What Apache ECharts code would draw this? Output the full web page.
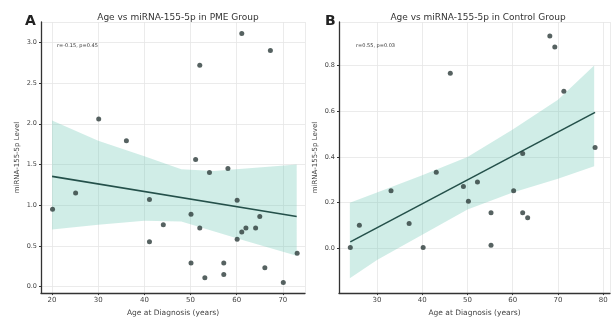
<!DOCTYPE html>
<html><head><meta charset="utf-8">
<script src="https://cdn.jsdelivr.net/npm/echarts@6/dist/echarts.min.js"></script>
<style>html,body{margin:0;padding:0;background:#fff}#c{width:613px;height:322px}</style>
</head><body><div id="c"></div>
<script>
// Panel A: PME group
const ageA = [61.1,67.3,52.0,30.1,36.1,51.1,54.1,58.1,20.1,25.1,41.1,60.1,50.1,65.0,44.1,52.0,62.0,64.1,61.1,60.1,41.1,73.1,50.1,57.2,66.1,57.2,53.1,70.1];
const mirA = [3.11,2.90,2.72,2.06,1.79,1.56,1.40,1.45,0.95,1.15,1.07,1.06,0.89,0.86,0.76,0.72,0.72,0.72,0.67,0.58,0.55,0.41,0.29,0.29,0.23,0.15,0.11,0.05];
const fitA = [[20,1.354],[73,0.86]];
const bandAgeA = [20,30,40,48,55,62,73];
const bandHiA = [2.04,1.79,1.60,1.44,1.42,1.45,1.50];
const bandLoA = [0.70,0.76,0.81,0.80,0.68,0.56,0.38];
// Panel B: Control group
const ageB = [68.2,69.3,46.2,71.3,78.2,62.2,43.1,33.1,49.1,52.2,60.2,50.2,26.1,37.1,55.2,62.2,63.3,24.1,40.2,55.2];
const mirB = [0.929,0.881,0.766,0.687,0.441,0.415,0.333,0.252,0.271,0.291,0.252,0.206,0.102,0.109,0.156,0.156,0.134,0.004,0.004,0.014];
const fitB = [[24.1,0.029],[78.2,0.595]];
const bandAgeB = [24,30,40,50,60,70,78];
const bandHiB = [0.20,0.245,0.32,0.40,0.52,0.65,0.80];
const bandLoB = [-0.13,-0.05,0.06,0.17,0.245,0.305,0.36];
const titleA = 'Age vs miRNA-155-5p in PME Group';
const titleB = 'Age vs miRNA-155-5p in Control Group';
const statA = 'r=-0.15, p=0.45';
const statB = 'r=0.55, p=0.03';
const xName = 'Age at Diagnosis (years)';
const yName = 'miRNA-155-5p Level';

const FONT = 'DejaVu Sans';
const axisCol = '#333';
const gridCol = '#e6e6e6';
const bandCol = 'rgba(110,200,180,0.32)';
const lineCol = '#24504a';
const dotCol = '#2c3b3a';

function xAxis(idx, min, max){
  return {type:'value', gridIndex:idx, min:min, max:max,
    name:xName, nameLocation:'middle', nameGap:15,
    nameTextStyle:{fontFamily:FONT, fontSize:7.5, color:'#444'},
    axisLine:{show:true, onZero:false, lineStyle:{color:axisCol, width:1.3}},
    axisTick:{show:true, length:2, lineStyle:{color:axisCol}},
    axisLabel:{fontFamily:FONT, fontSize:7, color:'#444', margin:4, showMinLabel:false, showMaxLabel:false},
    splitLine:{show:true, lineStyle:{color:gridCol, width:0.8}}};
}
function yAxis(idx, min, max, dec){
  return {type:'value', gridIndex:idx, min:min, max:max,
    name:yName, nameLocation:'middle', nameGap:20, nameRotate:90,
    nameTextStyle:{fontFamily:FONT, fontSize:7, color:'#444'},
    axisLine:{show:true, onZero:false, lineStyle:{color:axisCol, width:1.3}},
    axisTick:{show:true, length:2, lineStyle:{color:axisCol}},
    axisLabel:{fontFamily:FONT, fontSize:6.5, color:'#444', margin:4, showMinLabel:false, showMaxLabel:false,
      formatter: v => v.toFixed(dec)},
    splitLine:{show:true, lineStyle:{color:gridCol, width:0.8}}};
}
function band(idx, xs, lo, hi){
  return {type:'custom', xAxisIndex:idx, yAxisIndex:idx, silent:true, z:1,
    data: xs.map((x,i)=>[x, lo[i], hi[i]]),
    encode:{x:0, y:[1,2]},
    renderItem:(params, api)=>{
      if (params.dataIndex !== 0) return null;
      const pts = [];
      for (let i=0;i<xs.length;i++) pts.push(api.coord([xs[i], hi[i]]));
      for (let i=xs.length-1;i>=0;i--) pts.push(api.coord([xs[i], lo[i]]));
      return {type:'polygon', shape:{points:pts}, style:{fill:bandCol}};
    }};
}
function scatter(idx, xs, ys){
  return {type:'scatter', xAxisIndex:idx, yAxisIndex:idx, z:3, symbolSize:5,
    itemStyle:{color:dotCol}, data: xs.map((x,i)=>[x, ys[i]])};
}
function fit(idx, d){
  return {type:'line', xAxisIndex:idx, yAxisIndex:idx, z:2, symbol:'none',
    lineStyle:{color:lineCol, width:1.6}, data:d};
}

const chart = echarts.init(document.getElementById('c'), null, {renderer:'canvas'});
chart.setOption({
  animation:false,
  backgroundColor:'#fff',
  title:[
    {text:titleA, left:173, top:8, textAlign:'center', textStyle:{fontFamily:FONT, fontSize:9, fontWeight:'normal', color:'#333'}},
    {text:titleB, left:473, top:8, textAlign:'center', textStyle:{fontFamily:FONT, fontSize:9, fontWeight:'normal', color:'#333'}},
    {text:'A', left:20, top:9, textStyle:{fontFamily:FONT, fontSize:14, fontWeight:'bold', color:'#222'}},
    {text:'B', left:320, top:9, textStyle:{fontFamily:FONT, fontSize:14, fontWeight:'bold', color:'#222'}},
    {text:statA, left:52, top:38, textStyle:{fontFamily:FONT, fontSize:5, fontWeight:'normal', color:'#333'}},
    {text:statB, left:351, top:38, textStyle:{fontFamily:FONT, fontSize:5, fontWeight:'normal', color:'#333'}}
  ],
  grid:[
    {left:41, right:308, top:22, bottom:27},
    {left:339, right:3, top:22, bottom:27}
  ],
  xAxis:[xAxis(0, 17.6, 74.8), xAxis(1, 21.6, 81.5)],
  yAxis:[yAxis(0, -0.08, 3.25, 1), yAxis(1, -0.195, 0.99, 1)],
  series:[
    band(0, bandAgeA, bandLoA, bandHiA), fit(0, fitA), scatter(0, ageA, mirA),
    band(1, bandAgeB, bandLoB, bandHiB), fit(1, fitB), scatter(1, ageB, mirB)
  ]
});
</script></body></html>
